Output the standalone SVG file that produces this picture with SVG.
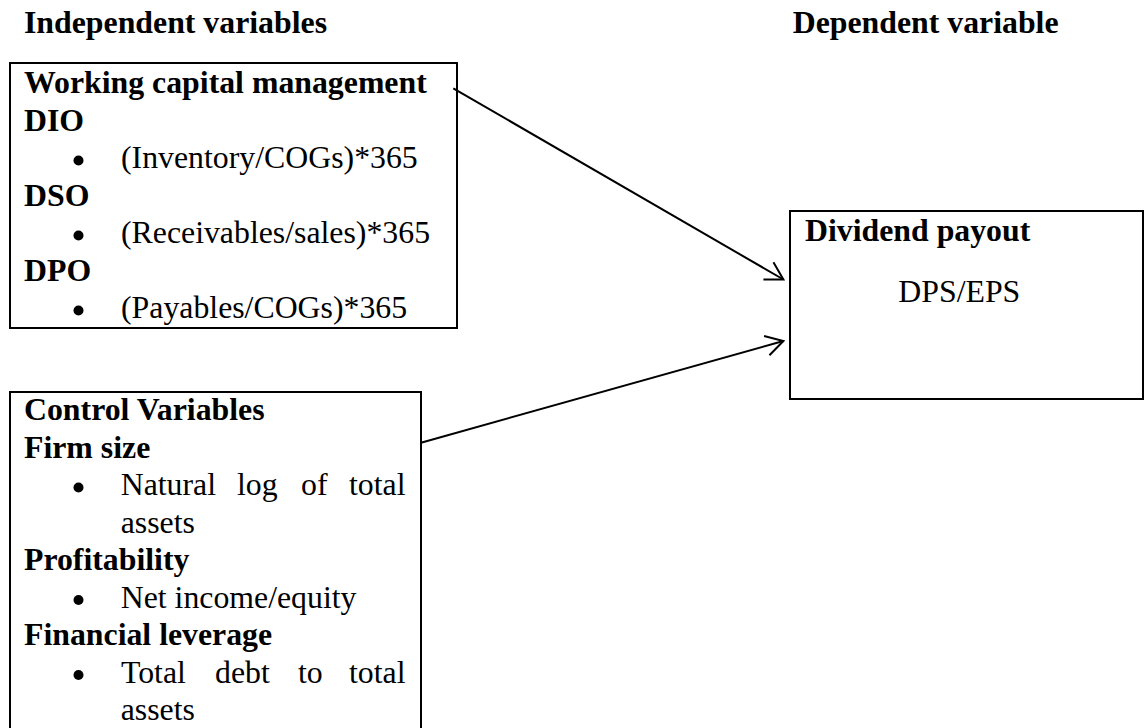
<svg xmlns="http://www.w3.org/2000/svg" width="1146" height="728" viewBox="0 0 1146 728">
  <style>
    .box { fill: #ffffff; stroke: #000000; stroke-width: 2; }
    .t { font-family: "Liberation Serif", "Times New Roman", serif; font-size: 31.8px; fill: #000000; }
    .b { font-weight: bold; }
    .dot { fill: #000000; }
    .conn { fill: none; stroke: #000000; stroke-width: 2; }
  </style>
  <defs>
    <marker id="arrow" viewBox="-20 -12 22 24" refX="0" refY="0" markerWidth="22" markerHeight="24" markerUnits="userSpaceOnUse" orient="auto">
      <path d="M-17.3,-10 L0,0 L-17.3,10" fill="none" stroke="#000000" stroke-width="2" stroke-linejoin="miter"/>
    </marker>
  </defs>
  <rect width="1146" height="728" fill="#ffffff"/>

  <g id="headers">
    <text class="t b" x="24" y="33">Independent variables</text>
    <text class="t b" x="792.7" y="33">Dependent variable</text>
  </g>

  <g id="wcm">
    <rect class="box" x="10" y="63" width="447" height="265"/>
    <text class="t b" x="24" y="93">Working capital management</text>
    <text class="t b" x="24" y="130.5">DIO</text>
    <circle class="dot" cx="78.5" cy="160.5" r="5"/>
    <text class="t" x="121" y="168">(Inventory/COGs)*365</text>
    <text class="t b" x="24" y="205.5">DSO</text>
    <circle class="dot" cx="78.5" cy="235.5" r="5"/>
    <text class="t" x="121" y="243">(Receivables/sales)*365</text>
    <text class="t b" x="24" y="280.5">DPO</text>
    <circle class="dot" cx="78.5" cy="310.5" r="5"/>
    <text class="t" x="121" y="318">(Payables/COGs)*365</text>
  </g>

  <g id="control">
    <rect class="box" x="10" y="392" width="411" height="360"/>
    <text class="t b" x="24" y="420">Control Variables</text>
    <text class="t b" x="24" y="457.5">Firm size</text>
    <circle class="dot" cx="78.5" cy="487.5" r="5"/>
    <text class="t" y="495"><tspan x="120.7">Natural</tspan><tspan x="237">log</tspan><tspan x="301">of</tspan><tspan x="349">total</tspan></text>
    <text class="t" x="120.7" y="532.5">assets</text>
    <text class="t b" x="24" y="570">Profitability</text>
    <circle class="dot" cx="78.5" cy="600" r="5"/>
    <text class="t" x="120.7" y="607.5">Net income/equity</text>
    <text class="t b" x="24" y="645">Financial leverage</text>
    <circle class="dot" cx="78.5" cy="675" r="5"/>
    <text class="t" y="682.5"><tspan x="121">Total</tspan><tspan x="215">debt</tspan><tspan x="298">to</tspan><tspan x="349">total</tspan></text>
    <text class="t" x="120.7" y="720">assets</text>
  </g>

  <g id="dividend">
    <rect class="box" x="790" y="211" width="353" height="188"/>
    <text class="t b" x="805" y="240.7">Dividend payout</text>
    <text class="t" x="898.3" y="301.7">DPS/EPS</text>
  </g>

  <g id="connectors">
    <line class="conn" x1="453.3" y1="88.3" x2="783.4" y2="279.5" marker-end="url(#arrow)"/>
    <line class="conn" x1="421" y1="442.7" x2="783.4" y2="341" marker-end="url(#arrow)"/>
  </g>
</svg>
